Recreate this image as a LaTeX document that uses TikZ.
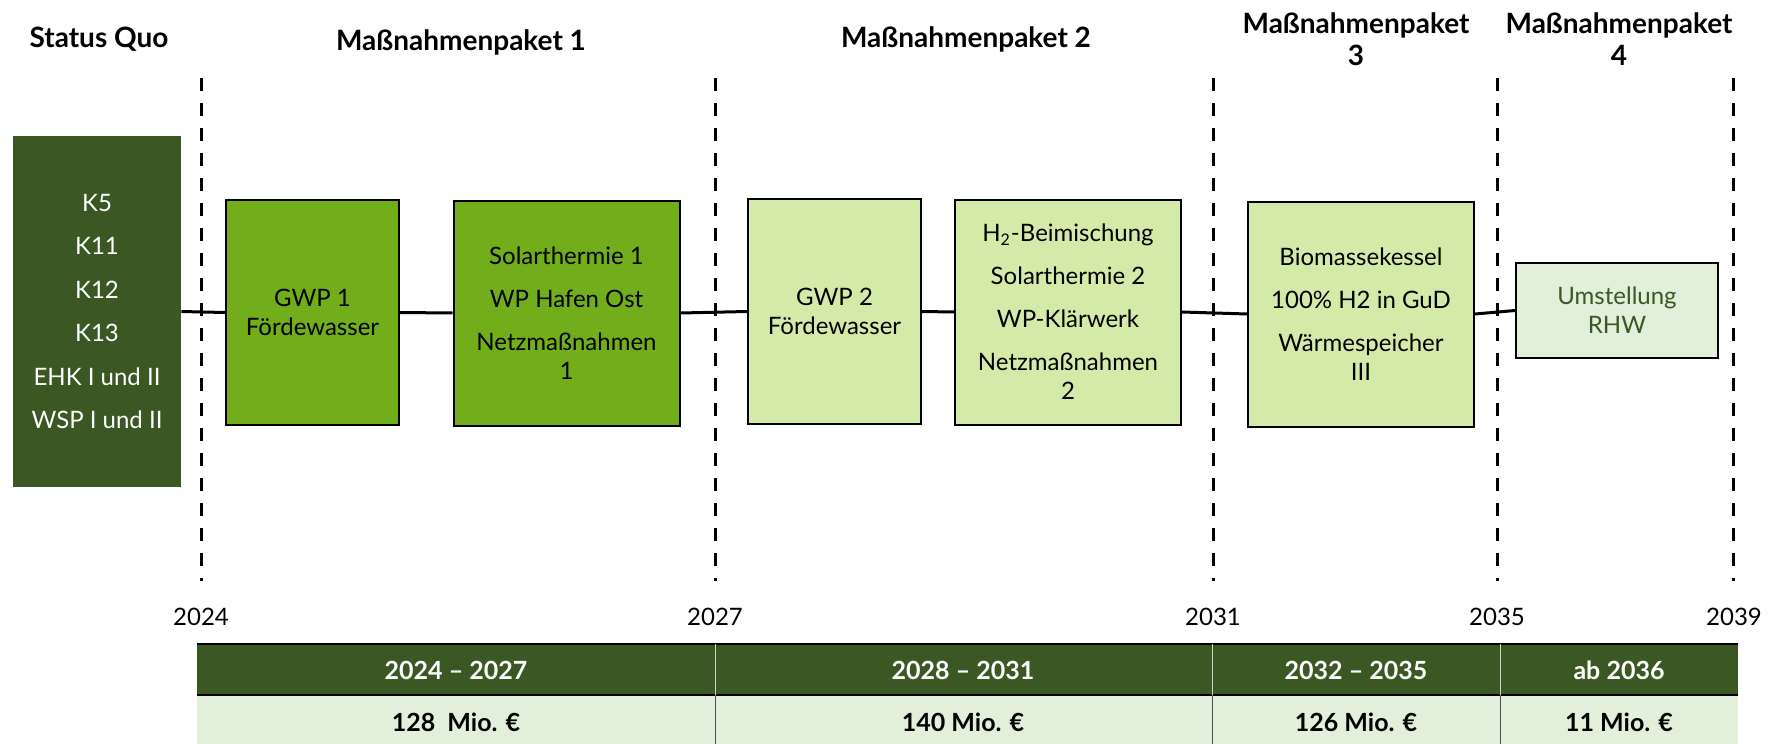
\documentclass[tikz,border=0pt]{standalone}
\usepackage{fontspec}
\setmainfont{Lato}
\usepackage{tikz}
\usetikzlibrary{calc}
\definecolor{darkgreen}{HTML}{3A5724}
\definecolor{leafgreen}{HTML}{72AE1B}
\definecolor{palegreen}{HTML}{D4EAA9}
\definecolor{mintgreen}{HTML}{E2EFDA}

\begin{document}
\begin{tikzpicture}[x=0.5pt,y=-0.5pt,
    boxtext/.style={align=center, inner sep=0pt, font=\fontsize{12}{14.5}\selectfont},
    statusbox/.style={boxtext, fill=darkgreen, text=white, minimum width=84pt, minimum height=175.5pt},
    strongbox/.style={boxtext, draw=black, line width=1pt, fill=leafgreen, minimum height=112.5pt},
    paleBox/.style={boxtext, draw=black, line width=1pt, fill=palegreen, minimum height=112.5pt},
    lastbox/.style={boxtext, draw=black, line width=1pt, fill=mintgreen, text=darkgreen, minimum width=101pt, minimum height=47.5pt},
    phase/.style={align=center, inner sep=0pt, font=\fontsize{14}{16}\selectfont\bfseries},
    year/.style={inner sep=0pt, font=\fontsize{12}{14}\selectfont},
    headtext/.style={inner sep=0pt, text=white, font=\fontsize{12.5}{14}\selectfont\bfseries},
    costtext/.style={inner sep=0pt, font=\fontsize{12.5}{14}\selectfont\bfseries},
    link/.style={line width=1.5pt},
    marker/.style={line width=1.5pt, dash pattern=on 6.5pt off 6pt}]
                \useasboundingbox (0,0) rectangle (1774,744);
                \def\ytop{78} \def\ybot{581}

                % phase titles
                \node[phase] (tq) at (99,39) {Status Quo};
                \node[phase] (t1) at (461,42) {Maßnahmenpaket 1};
                \node[phase] (t2) at (966,39) {Maßnahmenpaket 2};
                \node[phase] (t3) at (1356,39) {Maßnahmenpaket\\3};
                \node[phase] (t4) at (1619,39) {Maßnahmenpaket\\4};

                % dashed year markers
                \draw[marker] (201,\ytop) -- (201,\ybot);
                \draw[marker] (715,\ytop) -- (715,\ybot);
                \draw[marker] (1213,\ytop) -- (1213,\ybot);
                \draw[marker] (1497,\ytop) -- (1497,\ybot);
                \draw[marker] (1733,\ytop) -- (1733,\ybot);

                \node[year] (y2024) at (201,617) {2024};
                \node[year] (y2027) at (715,617) {2027};
                \node[year] (y2031) at (1213,617) {2031};
                \node[year] (y2035) at (1497,617) {2035};
                \node[year] (y2039) at (1734,617) {2039};

                % measures
                \node[statusbox] (quo) at (97,311.5) {K5\\[7.2pt]K11\\[7.2pt]K12\\[7.2pt]K13\\[7.2pt]EHK I und II\\[7.2pt]WSP I und II};
                \node[strongbox, minimum width=86.5pt] (gwp1) at (312.5,312.5) {GWP 1\\Fördewasser};
                \node[strongbox, minimum width=113pt] (sol1) at (566.5,313) {Solarthermie 1\\[7pt]WP Hafen Ost\\[7pt]Netzmaßnahmen\\1};
                \node[paleBox, minimum width=86.5pt] (gwp2) at (834.5,311.5) {GWP 2\\Fördewasser};
                \node[paleBox, minimum width=113pt] (mix) at (1068,312) {H\textsubscript{2}-Beimischung\\[7pt]Solarthermie 2\\[7pt]WP-Klärwerk\\[7pt]Netzmaßnahmen\\2};
                \node[paleBox, minimum width=113pt] (bio) at (1361,314) {Biomassekessel\\[7pt]100\% H2 in GuD\\[7pt]Wärmespeicher\\III};
                \node[lastbox] (rhw) at (1617,310.5) {Umstellung\\RHW};

                \draw[link] (quo.east) -- (gwp1.west);
                \draw[link] (gwp1.east) -- (sol1.west);
                \draw[link] (sol1.east) -- (gwp2.west);
                \draw[link] (gwp2.east) -- (mix.west);
                \draw[link] (mix.east) -- (bio.west);
                \draw[link] (bio.east) -- (rhw.west);

                % cost table
                \fill[darkgreen] (197,644) rectangle (1738,695);
                \fill[mintgreen] (197,695) rectangle (1738,750);
                \draw[line width=1pt] (197,644) -- (1738,644);
                \draw[line width=0.8pt] (197,695) -- (1738,695);
                \draw[white!75!darkgreen, line width=0.5pt] (715,644) -- (715,695) (1212,644) -- (1212,695) (1500,644) -- (1500,695);
                \draw[black!70, line width=0.5pt] (715,695) -- (715,750) (1212,695) -- (1212,750) (1500,695) -- (1500,750);

                \node[headtext] (h1) at (456,670) {2024 – 2027};
                \node[headtext] (h2) at (963,670) {2028 – 2031};
                \node[headtext] (h3) at (1356,670) {2032 – 2035};
                \node[headtext] (h4) at (1619,670) {ab 2036};
                \node[costtext] (c1) at (456,722) {128~~Mio. €};
                \node[costtext] (c2) at (963,722) {140 Mio. €};
                \node[costtext] (c3) at (1356,722) {126 Mio. €};
                \node[costtext] (c4) at (1619,722) {11 Mio. €};
            \end{tikzpicture}
\end{document}
